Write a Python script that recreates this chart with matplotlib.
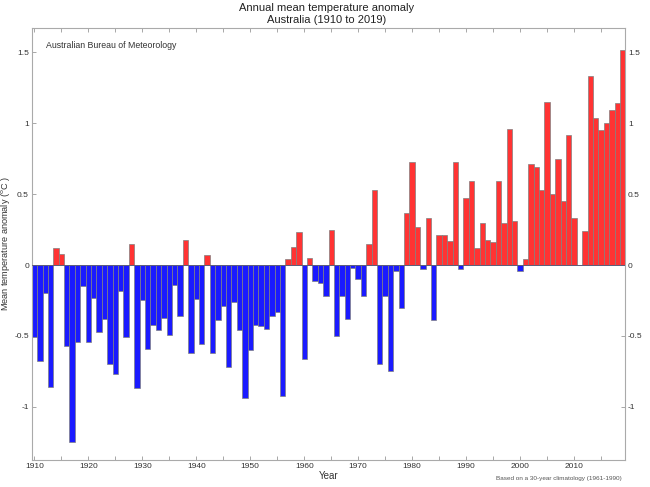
import matplotlib
matplotlib.use('Agg')
import matplotlib.pyplot as plt
import numpy as np

plt.rcParams['font.family'] = ['Liberation Sans', 'DejaVu Sans']

# annual anomalies, 1910-2019
years = np.arange(1910, 2020)
anomaly = [
    -0.51, -0.68, -0.20, -0.86, 0.12, 0.08, -0.57, -1.25, -0.54, -0.15,   # 1910s
    -0.54, -0.23, -0.47, -0.38, -0.70, -0.77, -0.18, -0.51, 0.15, -0.87,  # 1920s
    -0.25, -0.59, -0.42, -0.46, -0.37, -0.49, -0.14, -0.36, 0.18, -0.62,  # 1930s
    -0.24, -0.56, 0.07, -0.62, -0.39, -0.29, -0.72, -0.26, -0.46, -0.94,  # 1940s
    -0.60, -0.42, -0.43, -0.45, -0.36, -0.33, -0.92, 0.04, 0.13, 0.23,    # 1950s
    -0.66, 0.05, -0.11, -0.13, -0.22, 0.25, -0.50, -0.22, -0.38, -0.02,   # 1960s
    -0.10, -0.22, 0.15, 0.53, -0.70, -0.22, -0.75, -0.04, -0.30, 0.37,    # 1970s
    0.73, 0.27, -0.03, 0.33, -0.39, 0.21, 0.21, 0.17, 0.73, -0.03,        # 1980s
    0.47, 0.59, 0.12, 0.30, 0.18, 0.16, 0.59, 0.30, 0.96, 0.31,           # 1990s
    -0.04, 0.04, 0.71, 0.69, 0.53, 1.15, 0.50, 0.75, 0.45, 0.92,          # 2000s
    0.33, 0.00, 0.24, 1.33, 1.04, 0.95, 1.00, 1.09, 1.14, 1.52,           # 2010s
]
anomaly = np.array(anomaly)
colors = np.where(anomaly >= 0, '#ff3333', '#1a1aff')

fig = plt.figure(figsize=(6.5, 4.87), dpi=100)
ax = fig.add_axes([0.0488, 0.0554, 0.9132, 0.8866])

ax.bar(years, anomaly, width=1.0, color=colors, edgecolor='#808080', linewidth=0.5, zorder=2)
ax.axhline(0, color='#555577', linewidth=0.6, zorder=3)

ax.set_xlim(1909.5, 2019.5)
ax.set_ylim(-1.375, 1.67)

ax.set_xticks(np.arange(1910, 2011, 10))
ax.set_xticks(np.arange(1915, 2020, 10), minor=True)
ax.set_yticks([-1, -0.5, 0, 0.5, 1, 1.5])
ax.set_yticklabels(['-1', '-0.5', '0', '0.5', '1', '1.5'])
ax.tick_params(which='both', direction='in', top=True, right=True,
               labelright=True, labelsize=6, colors='#999999',
               labelcolor='#333333', length=3, width=0.6, pad=2)

for s in ax.spines.values():
    s.set_color('#aaaaaa')
    s.set_linewidth(0.8)

fig.text(0.502, 0.993, 'Annual mean temperature anomaly\nAustralia (1910 to 2019)',
         ha='center', va='top', fontsize=8, color='#222222', linespacing=1.15)
ax.text(0.024, 0.96, 'Australian Bureau of Meteorology', transform=ax.transAxes,
        fontsize=6.3, color='#333333', va='center')
ax.set_xlabel('Year', fontsize=7, color='#333333', labelpad=1)
fig.text(0.009, 0.499, 'Mean temperature anomaly ($^{\\rm o}$C )', rotation=90,
         ha='center', va='center', fontsize=6.6, color='#333333')
fig.text(0.957, 0.012, 'Based on a 30-year climatology (1961-1990)', ha='right', va='bottom',
         fontsize=4.6, color='#555555')

fig.savefig('out.png', dpi=100)
